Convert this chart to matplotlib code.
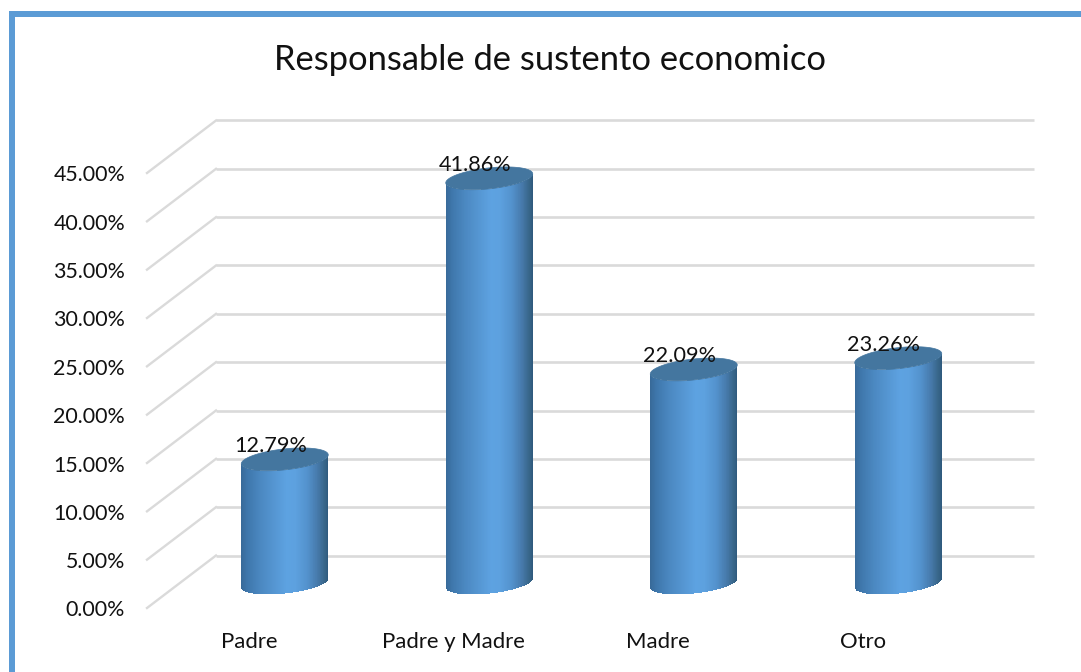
import numpy as np
import matplotlib
matplotlib.use("Agg")
import matplotlib.pyplot as plt
from matplotlib.colors import LinearSegmentedColormap
from matplotlib.patches import Polygon, Rectangle
from matplotlib.transforms import Affine2D

categories = ["Padre", "Padre y Madre", "Madre", "Otro"]
values = [12.79, 41.86, 22.09, 23.26]
y_ticks = [0, 5, 10, 15, 20, 25, 30, 35, 40, 45]
title = "Responsable de sustento economico"

W, H = 1081, 672
plt.rcParams["font.family"] = ["Lato", "DejaVu Sans"]
fig = plt.figure(figsize=(W / 100, H / 100), dpi=100, facecolor="white")

# plot rectangle: front floor edge, px from the top-left of the picture
L, R, B, T = 147, 965, 608, 173
ax = fig.add_axes([L / W, 1 - B / H, (R - L) / W, (B - T) / H])
ax.set_xlim(-0.5, 3.5)
ax.set_ylim(0, 45)
ax.axis("off")

px_x = (R - L) / 4
px_y = (B - T) / 45
tr_back = ax.transData + Affine2D().translate(69, 52.5)
tr_mid = ax.transData + Affine2D().translate(35.5, 25)

# frame
BLUE = "#5b9bd5"
fig.add_artist(Rectangle((9 / W, 0), 6 / W, 1 - 11 / H, transform=fig.transFigure, color=BLUE, lw=0))
fig.add_artist(Rectangle((9 / W, 1 - 17 / H), 1 - 9 / W, 6 / H, transform=fig.transFigure, color=BLUE, lw=0))

# gridlines
GRID = "#dadada"
for v in y_ticks:
    ax.plot([-0.5, 3.5], [v, v], transform=tr_back, color=GRID, lw=1.9, clip_on=False, zorder=1,
            solid_capstyle="butt")
    p0 = ax.transData.transform((-0.5, v))
    p1 = tr_back.transform((-0.5, v))
    fig.add_artist(plt.Line2D([p0[0] / W, p1[0] / W], [p0[1] / H, p1[1] / H],
                              transform=fig.transFigure, color=GRID, lw=1.7, zorder=1))

cmap = LinearSegmentedColormap.from_list("cyl", [
    (0.0, "#386a99"), (0.08, "#3f78ad"), (0.22, "#4b88c1"), (0.38, "#5596d2"),
    (0.52, "#5da2e1"), (0.62, "#5da1df"), (0.76, "#5392cd"), (0.88, "#4679aa"),
    (0.96, "#386689"), (1.0, "#2f5a7e")])

half = 43.5 / px_x
a_e = 10.5 / px_y
b_e = 4.5 / px_y
th = np.linspace(0, 2 * np.pi, 121)
u = np.linspace(-1, 1, 201)

for i, v in enumerate(values):
    xs = i + half * u
    low = -a_e * np.sqrt(1 - u ** 2) + b_e * u
    X = np.vstack([xs, xs])
    Y = np.vstack([low, v + low])
    C = ((u[:-1] + u[1:]) / 2 + 1) / 2
    ax.pcolormesh(X, Y, C[None, :], cmap=cmap, vmin=0, vmax=1, shading="flat",
                  transform=tr_mid, zorder=3, clip_on=False, antialiased=False, rasterized=True)
    ell = np.column_stack([i + half * np.cos(th), v + a_e * np.sin(th) + b_e * np.cos(th)])
    ax.add_patch(Polygon(ell, closed=True, transform=tr_mid, facecolor="#44769f",
                         edgecolor="#44769f", lw=0.5, zorder=4, clip_on=False))
    ax.text(i, v, f"{v:.2f}%", transform=tr_mid + Affine2D().translate(-14.5, 3), ha="center", va="bottom",
            fontsize=15.6, color="#111111", zorder=5, clip_on=False)
    ax.text(i, 0, categories[i], transform=ax.transData + Affine2D().translate(0, -32), ha="center",
            va="center_baseline", fontsize=15.9, color="#111111", clip_on=False)

for v in y_ticks:
    ax.text(-0.5, v, f"{v:.2f}%", transform=ax.transData + Affine2D().translate(-22, -2.5), ha="right",
            va="center", fontsize=15.4, color="#111111", clip_on=False)

fig.text(550.5 / W, 1 - 60.5 / H, title, ha="center", va="center", fontsize=24.8, color="#111111")
fig.savefig("out.png", dpi=100)
